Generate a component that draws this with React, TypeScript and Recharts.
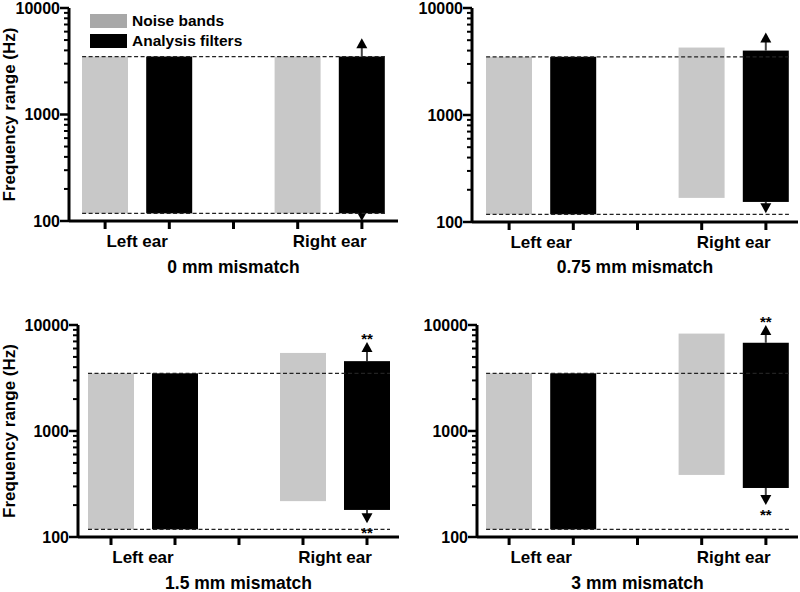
import React from 'react';
import { ComposedChart, Bar, Cell, XAxis, YAxis, ReferenceLine } from 'recharts';

const FONT = '"Liberation Sans", Arial, Helvetica, sans-serif';

// x slots: two bars per ear, an empty slot between the ears
const CATEGORIES = ['leftNoise', 'leftFilter', 'gap', 'rightNoise', 'rightFilter'];
const EAR_LABELS: Record<string, string> = { leftNoise: 'Left ear', rightNoise: 'Right ear' };

const MAJOR_TICKS = [100, 1000, 10000];
const MINOR_TICKS = [200, 300, 400, 500, 600, 700, 800, 900, 2000, 3000, 4000, 5000, 6000, 7000, 8000, 9000];

const TITLES = ['0 mm mismatch', '0.75 mm mismatch', '1.5 mm mismatch', '3 mm mismatch'];

// frequency ranges in Hz, [low, high], one entry per panel
const LEFT_NOISE = [[118, 3500], [118, 3500], [118, 3500], [118, 3500]];
const LEFT_FILTER = [[118, 3500], [118, 3500], [118, 3500], [118, 3500]];
const RIGHT_NOISE = [[118, 3500], [168, 4270], [218, 5450], [385, 8300]];
const RIGHT_FILTER = [[118, 3500], [154, 4000], [180, 4560], [290, 6800]];
const RIGHT_WHISKER = [[100, 5200], [121, 5900], [135, 6900], [200, 10000]];
const SIGNIFICANCE = ['', '', '**', '**'];

// normal-hearing band edges (dashed lines)
const LOW_EDGE = 118;
const HIGH_EDGE = 3500;

const NOISE_COLOR = '#c8c8c8';
const FILTER_COLOR = '#000000';
const BAR_SIZE = 46;

const CHART_W = 400;
const CHART_H = 296;

const LAYOUT = [
  { left: 0, top: 0, axisW: 69, plotTop: 8, plotBottom: 221, padL: 4, padR: 4, right: 2, titleBase: 273, yTitle: true },
  { left: 400, top: 0, axisW: 72, plotTop: 8, plotBottom: 222, padL: 5, padR: 0, right: 2, titleBase: 273, yTitle: false },
  { left: 0, top: 300, axisW: 78, plotTop: 25, plotBottom: 237, padL: 1, padR: 0, right: 1, titleBase: 289, yTitle: true },
  { left: 400, top: 300, axisW: 77, plotTop: 25, plotBottom: 237, padL: 0, padR: 0, right: 2, titleBase: 289, yTitle: false },
];

const panelData = (i: number) => [
  { cat: CATEGORIES[0], range: LEFT_NOISE[i], kind: 'noise' },
  { cat: CATEGORIES[1], range: LEFT_FILTER[i], kind: 'filter' },
  { cat: CATEGORIES[2], range: null, kind: null },
  { cat: CATEGORIES[3], range: RIGHT_NOISE[i], kind: 'noise' },
  { cat: CATEGORIES[4], range: RIGHT_FILTER[i], kind: 'filter', whisker: RIGHT_WHISKER[i], sig: SIGNIFICANCE[i] },
];

const YTick = ({ x, y, payload }: any) => {
  const major = MAJOR_TICKS.includes(payload.value);
  return (
    <g>
      <line x1={x} x2={x - (major ? 9 : 5)} y1={y} y2={y} stroke="#000" strokeWidth={major ? 2.5 : 2} />
      {major && (
        <text x={x - 9} y={y} dy="0.36em" textAnchor="end" fontFamily={FONT} fontWeight="bold" fontSize={16} fill="#000">
          {payload.value}
        </text>
      )}
    </g>
  );
};

const XTick = ({ x, y, payload }: any) => (
  <g>
    <line x1={x} x2={x} y1={y} y2={y + 8} stroke="#000" strokeWidth={3} />
    {EAR_LABELS[payload.value] && (
      <text x={x + 32} y={y + 26} textAnchor="middle" fontFamily={FONT} fontWeight="bold" fontSize={17} fill="#000">
        {EAR_LABELS[payload.value]}
      </text>
    )}
  </g>
);

const DashedEdge = (p: any) => (
  <line
    x1={p.x1 - BAR_SIZE / 2}
    x2={p.x2 + BAR_SIZE / 2}
    y1={p.y1}
    y2={p.y2}
    stroke="#222"
    strokeWidth={1.2}
    strokeDasharray="4 2.5"
  />
);

// range bar, plus arrow whiskers and significance stars for the right-ear filters
const RangeShape = (props: any) => {
  const { x, y, width, height, fill, payload } = props;
  if (!payload || !payload.range) return null;
  const [lo, hi] = payload.range;
  const cx = x + width / 2;
  const toY = (v: number) =>
    y + (height * (Math.log10(hi) - Math.log10(v))) / (Math.log10(hi) - Math.log10(lo));
  let whisker = null;
  if (payload.whisker) {
    const top = toY(payload.whisker[1]);
    const bottom = toY(payload.whisker[0]);
    whisker = (
      <g>
        <line x1={cx} x2={cx} y1={y} y2={top + 9} stroke="#444" strokeWidth={2} />
        <line x1={cx} x2={cx} y1={y + height} y2={bottom - 9} stroke="#444" strokeWidth={2} />
        <polygon points={`${cx},${top} ${cx - 5.5},${top + 10} ${cx + 5.5},${top + 10}`} fill="#000" />
        <polygon points={`${cx},${bottom} ${cx - 5.5},${bottom - 10} ${cx + 5.5},${bottom - 10}`} fill="#000" />
        {payload.sig && (
          <>
            <text x={cx} y={top + 2} textAnchor="middle" fontFamily={FONT} fontWeight="bold" fontSize={15} fill="#000">
              {payload.sig}
            </text>
            <text x={cx} y={bottom + 14.5} textAnchor="middle" fontFamily={FONT} fontWeight="bold" fontSize={15} fill="#000">
              {payload.sig}
            </text>
          </>
        )}
      </g>
    );
  }
  return (
    <g>
      {whisker}
      <rect x={x} y={y} width={width} height={height} fill={fill} />
    </g>
  );
};

function Panel({ index }: { index: number }) {
  const l = LAYOUT[index];
  const data = panelData(index);
  const axisH = CHART_H - l.plotBottom;
  return (
    <div style={{ position: 'absolute', left: l.left, top: l.top }}>
      <ComposedChart
        width={CHART_W}
        height={CHART_H}
        data={data}
        margin={{ top: l.plotTop, right: l.right, bottom: 0, left: 0 }}
      >
        <XAxis
          dataKey="cat"
          type="category"
          interval={0}
          height={axisH}
          padding={{ left: l.padL, right: l.padR }}
          axisLine={{ stroke: '#000', strokeWidth: 3 }}
          tickLine={false}
          tickSize={0}
          tickMargin={0}
          tick={<XTick />}
          label={{
            value: TITLES[index],
            position: 'insideBottom',
            offset: CHART_H - l.titleBase,
            style: { fontFamily: FONT, fontWeight: 'bold', fontSize: 17.5, fill: '#000' },
          }}
        />
        <YAxis
          scale="log"
          domain={[100, 10000]}
          ticks={[...MAJOR_TICKS, ...MINOR_TICKS]}
          interval={0}
          width={l.axisW}
          axisLine={{ stroke: '#000', strokeWidth: 3 }}
          tickLine={false}
          tickSize={0}
          tickMargin={0}
          tick={<YTick />}
          label={
            l.yTitle
              ? {
                  value: 'Frequency range (Hz)',
                  angle: -90,
                  position: 'insideLeft',
                  offset: 9,
                  style: { textAnchor: 'middle', fontFamily: FONT, fontWeight: 'bold', fontSize: 17, fill: '#000' },
                }
              : undefined
          }
        />
        <ReferenceLine
          segment={[{ x: CATEGORIES[0], y: HIGH_EDGE }, { x: CATEGORIES[4], y: HIGH_EDGE }]}
          shape={DashedEdge}
        />
        <ReferenceLine
          segment={[{ x: CATEGORIES[0], y: LOW_EDGE }, { x: CATEGORIES[4], y: LOW_EDGE }]}
          shape={DashedEdge}
        />
        <Bar dataKey="range" barSize={BAR_SIZE} isAnimationActive={false} shape={RangeShape}>
          {data.map((d) => (
            <Cell key={d.cat} fill={d.kind === 'noise' ? NOISE_COLOR : FILTER_COLOR} />
          ))}
        </Bar>
      </ComposedChart>
    </div>
  );
}

const LEGEND = [
  { label: 'Noise bands', color: '#a8a8a8' },
  { label: 'Analysis filters', color: FILTER_COLOR },
];

export default function App() {
  return (
    <div
      style={{
        position: 'absolute',
        left: 0,
        top: 0,
        width: 800,
        height: 592,
        overflow: 'hidden',
        background: '#fff',
        fontFamily: FONT,
      }}
    >
      {LAYOUT.map((_, i) => (
        <Panel key={i} index={i} />
      ))}
      <div style={{ position: 'absolute', left: 90, top: 11 }}>
        {LEGEND.map((item) => (
          <div key={item.label} style={{ display: 'flex', alignItems: 'center', height: 20 }}>
            <span style={{ display: 'inline-block', width: 37, height: 14, background: item.color }} />
            <span style={{ marginLeft: 5, fontWeight: 'bold', fontSize: 15.5, color: '#000' }}>{item.label}</span>
          </div>
        ))}
      </div>
    </div>
  );
}
